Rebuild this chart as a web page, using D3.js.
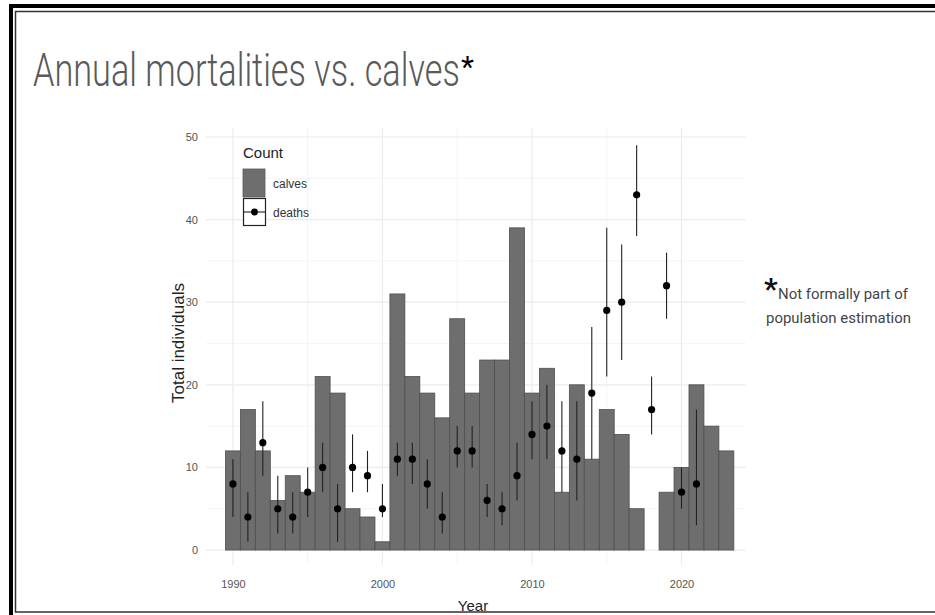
<!DOCTYPE html>
<html>
<head>
<meta charset="utf-8">
<script src="https://cdn.jsdelivr.net/npm/d3@7"></script>
<style>
  html, body { margin: 0; padding: 0; background: #fff; }
  svg { display: block; }
</style>
</head>
<body>
<svg id="chart" width="935" height="615"></svg>
<script>
// ---- data ----
const years = d3.range(1990, 2024);
const calves = [12, 17, 12, 6, 9, 7, 21, 19, 5, 4, 1, 31, 21, 19, 16, 28, 19, 23, 23, 39, 19, 22, 7, 20, 11, 17, 14, 5, 0, 7, 10, 20, 15, 12];
const deathYears = d3.range(1990, 2022);
const deaths =    [8, 4, 13, 5, 4, 7, 10, 5, 10, 9, 5, 11, 11, 8, 4, 12, 12, 6, 5, 9, 14, 15, 12, 11, 19, 29, 30, 43, 17, 32, 7, 8];
const deathsLow = [4, 1, 9, 2, 2, 4, 7, 1, 7, 7, 4, 9, 8, 5, 2, 10, 10, 4, 3, 6, 11, 11, 7, 6, 11, 21, 23, 38, 14, 28, 5, 3];
const deathsHigh= [11, 7, 18, 9, 7, 10, 13, 8, 14, 12, 8, 13, 13, 11, 7, 15, 15, 8, 7, 13, 18, 20, 18, 18, 27, 39, 37, 49, 21, 36, 10, 17];
const yTicks = [0, 10, 20, 30, 40, 50];
const yMinor = [5, 15, 25, 35, 45];
const xTicks = [1990, 2000, 2010, 2020];
const xMinor = [1995, 2005, 2015];
const legendLabels = ["calves", "deaths"];

const svg = d3.select("#chart");

// ---- frame ----
svg.append("rect").attr("x", 11).attr("y", 6).attr("width", 1000).attr("height", 1000)
  .attr("fill", "none").attr("stroke", "#000").attr("stroke-width", 4);
svg.append("rect").attr("x", 15.5).attr("y", 11.5).attr("width", 1000).attr("height", 600.5)
  .attr("fill", "none").attr("stroke", "#333").attr("stroke-width", 1.5);

// condensed text helper: scale horizontally to a target width
function condensed(parent, tx, ty, str, size, weight, fill, targetW) {
  const t = parent.append("text").attr("x", 0).attr("y", 0)
    .attr("font-family", "Roboto").attr("font-weight", weight).attr("font-size", size)
    .attr("fill", fill).text(str);
  const w = t.node().getComputedTextLength();
  const s = targetW / w;
  t.attr("transform", `translate(${tx},${ty}) scale(${s},1)`);
  return tx + targetW;
}

// ---- title ----
const titleEnd = condensed(svg, 33, 86, "Annual mortalities vs. calves", 46, 300, "#5a5a5a", 427);
svg.append("text").attr("x", titleEnd + 1).attr("y", 77)
  .attr("font-family", "Roboto").attr("font-weight", 400).attr("font-size", 30).attr("fill", "#000").text("*");

// ---- annotation ----
svg.append("text").attr("x", 764).attr("y", 299).attr("font-family", "Roboto").attr("font-size", 30)
  .attr("font-weight", 700).attr("fill", "#111").text("*");
condensed(svg, 778, 299, "Not formally part of", 15, 400, "#444", 130);
condensed(svg, 766, 323, "population estimation", 15, 400, "#444", 145);

// ---- scales ----
const x = d3.scaleLinear().domain([1988.2, 2024.3]).range([206, 745.8]);
const y = d3.scaleLinear().domain([-1.8, 51.1]).range([564.9, 127.9]);
const [px0, px1] = x.range();
const [py0, py1] = y.range();

// ---- grid ----
const g = svg.append("g");
g.selectAll(".hmin").data(yMinor).join("line")
  .attr("x1", px0).attr("x2", px1).attr("y1", d => y(d)).attr("y2", d => y(d))
  .attr("stroke", "#f5f5f5").attr("stroke-width", 1);
g.selectAll(".vmin").data(xMinor).join("line")
  .attr("y1", py0).attr("y2", py1).attr("x1", d => x(d)).attr("x2", d => x(d))
  .attr("stroke", "#f5f5f5").attr("stroke-width", 1);
g.selectAll(".hmaj").data(yTicks).join("line")
  .attr("x1", px0).attr("x2", px1).attr("y1", d => y(d)).attr("y2", d => y(d))
  .attr("stroke", "#ececec").attr("stroke-width", 1.2);
g.selectAll(".vmaj").data(xTicks).join("line")
  .attr("y1", py0).attr("y2", py1).attr("x1", d => x(d)).attr("x2", d => x(d))
  .attr("stroke", "#ececec").attr("stroke-width", 1.2);

// ---- bars ----
svg.append("g").selectAll("rect").data(years.map((yr, i) => ({yr, v: calves[i]}))).join("rect")
  .attr("x", d => x(d.yr - 0.5)).attr("width", d => x(d.yr + 0.5) - x(d.yr - 0.5))
  .attr("y", d => y(d.v)).attr("height", d => y(0) - y(d.v))
  .attr("fill", "#6e6e6e").attr("stroke", "#4f4f4f").attr("stroke-width", 0.8);

// ---- deaths with ranges ----
const dd = deathYears.map((yr, i) => ({yr, v: deaths[i], lo: deathsLow[i], hi: deathsHigh[i]}));
const eg = svg.append("g");
eg.selectAll("line").data(dd).join("line")
  .attr("x1", d => x(d.yr)).attr("x2", d => x(d.yr))
  .attr("y1", d => y(d.lo)).attr("y2", d => y(d.hi))
  .attr("stroke", "#222").attr("stroke-width", 1.1);
eg.selectAll("circle").data(dd).join("circle")
  .attr("cx", d => x(d.yr)).attr("cy", d => y(d.v)).attr("r", 3.6).attr("fill", "#000");

// ---- axes ----
const yAxis = d3.axisLeft(y).tickValues(yTicks).tickSize(0).tickPadding(0);
const ya = svg.append("g").attr("transform", "translate(198,0)").call(yAxis);
ya.select(".domain").remove();
ya.selectAll("text").attr("font-family", "Liberation Sans").attr("font-size", 11).attr("fill", "#555");

const xAxis = d3.axisBottom(x).tickValues(xTicks).tickFormat(d3.format("d")).tickSize(0).tickPadding(0);
const xa = svg.append("g").attr("transform", "translate(0,580)").call(xAxis);
xa.select(".domain").remove();
xa.selectAll("text").attr("font-family", "Liberation Sans").attr("font-size", 11).attr("fill", "#555");

// axis titles
svg.append("text").attr("transform", "translate(184,343) rotate(-90)").attr("text-anchor", "middle")
  .attr("font-family", "Liberation Sans").attr("font-size", 17).attr("fill", "#222").text("Total individuals");
svg.append("text").attr("x", 473).attr("y", 611).attr("text-anchor", "middle")
  .attr("font-family", "Liberation Sans").attr("font-size", 15).attr("fill", "#222").text("Year");

// ---- legend ----
const lg = svg.append("g");
lg.append("text").attr("x", 243).attr("y", 158).attr("font-family", "Liberation Sans")
  .attr("font-size", 15).attr("fill", "#222").text("Count");
lg.append("rect").attr("x", 243).attr("y", 169).attr("width", 22).attr("height", 28)
  .attr("fill", "#6e6e6e").attr("stroke", "#5a5a5a").attr("stroke-width", 0.8);
lg.append("rect").attr("x", 243.5).attr("y", 198.5).attr("width", 22).attr("height", 27)
  .attr("fill", "#fff").attr("stroke", "#222").attr("stroke-width", 1.2);
lg.append("line").attr("x1", 243.5).attr("x2", 265.5).attr("y1", 212).attr("y2", 212)
  .attr("stroke", "#222").attr("stroke-width", 1.1);
lg.append("circle").attr("cx", 254.5).attr("cy", 212).attr("r", 3.4).attr("fill", "#000");
lg.selectAll(".lt").data(legendLabels).join("text")
  .attr("x", 273).attr("y", (d, i) => 188 + i * 29)
  .attr("font-family", "Liberation Sans").attr("font-size", 12).attr("fill", "#333").text(d => d);
</script>
</body>
</html>
